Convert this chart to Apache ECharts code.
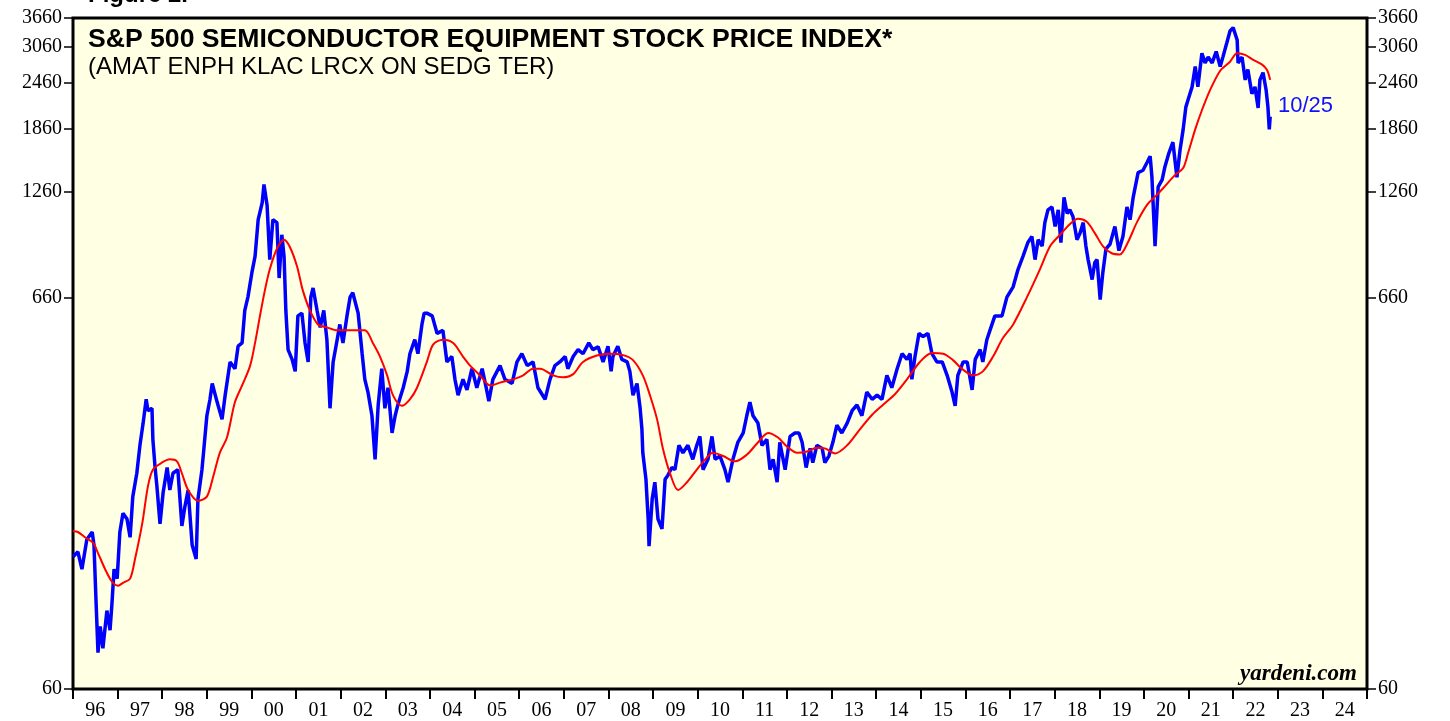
<!DOCTYPE html>
<html>
<head>
<meta charset="utf-8">
<script src="https://cdn.jsdelivr.net/npm/echarts@6/dist/echarts.min.js"></script>
<style>
  html, body { margin: 0; padding: 0; background: #fff; }
  #chart { width: 1450px; height: 721px; }
</style>
</head>
<body>
<div id="chart"></div>
<script>
// year labels under the axis (one per calendar year, centred in the year)
const yearLabels = ['96', '97', '98', '99', '00', '01', '02', '03', '04', '05', '06', '07', '08', '09',
  '10', '11', '12', '13', '14', '15', '16', '17', '18', '19', '20', '21', '22', '23', '24'];

// tick values of the log price axis
const yTicks = [60, 660, 1260, 1860, 2460, 3060, 3660];

// index level, [decimal year, value]
const indexLevel = [
  [1996.00, 135], [1996.11, 139], [1996.20, 125], [1996.31, 150], [1996.43, 157], [1996.47, 145],
  [1996.52, 100], [1996.56, 75], [1996.61, 88], [1996.67, 77], [1996.76, 97], [1996.83, 86],
  [1996.87, 100], [1996.92, 125], [1996.99, 118],
  [1997.05, 157], [1997.12, 176], [1997.21, 170], [1997.28, 152], [1997.34, 195], [1997.43, 225],
  [1997.50, 267], [1997.57, 305], [1997.64, 354], [1997.68, 330], [1997.77, 335], [1997.79, 277],
  [1997.84, 233], [1997.88, 208], [1997.95, 165],
  [1998.02, 200], [1998.11, 233], [1998.17, 203], [1998.24, 225], [1998.35, 230], [1998.44, 163],
  [1998.51, 184], [1998.58, 203], [1998.67, 145], [1998.76, 133], [1998.80, 192], [1998.89, 230],
  [1998.94, 267],
  [1999.00, 320], [1999.07, 354], [1999.12, 390], [1999.23, 348], [1999.34, 313], [1999.41, 363],
  [1999.52, 445], [1999.63, 427], [1999.70, 490], [1999.79, 500], [1999.85, 610], [1999.92, 662],
  [2000.01, 770], [2000.08, 850], [2000.15, 1064], [2000.24, 1180], [2000.28, 1320], [2000.35, 1160],
  [2000.41, 833], [2000.48, 1064], [2000.57, 1045], [2000.62, 744], [2000.68, 970], [2000.73, 850],
  [2000.77, 610], [2000.82, 480], [2000.91, 452], [2000.98, 420],
  [2001.04, 590], [2001.13, 600], [2001.20, 500], [2001.27, 445], [2001.33, 662], [2001.38, 700],
  [2001.47, 610], [2001.54, 550], [2001.62, 610], [2001.69, 510], [2001.76, 335], [2001.83, 445],
  [2001.92, 510], [2001.98, 560],
  [2002.05, 500], [2002.14, 590], [2002.21, 662], [2002.27, 680], [2002.39, 600], [2002.48, 468],
  [2002.54, 400], [2002.61, 370], [2002.70, 320], [2002.77, 245], [2002.84, 342], [2002.92, 427],
  [2002.99, 335],
  [2003.06, 380], [2003.15, 288], [2003.22, 320], [2003.28, 342], [2003.40, 380], [2003.49, 420],
  [2003.55, 468], [2003.66, 510], [2003.73, 468], [2003.82, 560], [2003.87, 600], [2003.93, 600],
  [2004.05, 590], [2004.16, 530], [2004.29, 540], [2004.38, 445], [2004.49, 460], [2004.56, 400],
  [2004.63, 363], [2004.74, 400], [2004.83, 375], [2004.94, 427],
  [2005.05, 380], [2005.17, 427], [2005.26, 380], [2005.32, 350], [2005.41, 400], [2005.57, 435],
  [2005.68, 400], [2005.84, 390], [2005.95, 445],
  [2006.06, 468], [2006.18, 435], [2006.31, 445], [2006.42, 380], [2006.58, 354], [2006.69, 400],
  [2006.80, 435], [2006.91, 445],
  [2007.03, 460], [2007.09, 427], [2007.21, 460], [2007.32, 480], [2007.43, 468], [2007.56, 500],
  [2007.65, 480], [2007.77, 488], [2007.88, 445], [2007.99, 490],
  [2008.06, 420], [2008.10, 460], [2008.21, 490], [2008.30, 452], [2008.42, 445], [2008.48, 420],
  [2008.55, 363], [2008.64, 390], [2008.71, 335], [2008.75, 295], [2008.77, 255], [2008.84, 217],
  [2008.89, 170], [2008.91, 144], [2008.98, 192],
  [2009.04, 213], [2009.11, 170], [2009.20, 160], [2009.27, 217], [2009.33, 222], [2009.42, 233],
  [2009.49, 230], [2009.58, 267], [2009.67, 255], [2009.78, 267], [2009.89, 245], [2009.98, 267],
  [2010.05, 282], [2010.12, 230], [2010.23, 245], [2010.32, 282], [2010.39, 245], [2010.50, 250],
  [2010.61, 230], [2010.68, 213], [2010.79, 245], [2010.90, 272],
  [2011.02, 288], [2011.10, 320], [2011.17, 348], [2011.24, 320], [2011.35, 306], [2011.44, 267],
  [2011.55, 277], [2011.62, 230], [2011.69, 245], [2011.78, 213], [2011.84, 272], [2011.96, 230],
  [2012.07, 282], [2012.18, 288], [2012.27, 288], [2012.34, 272], [2012.43, 233], [2012.52, 262],
  [2012.58, 240], [2012.67, 267], [2012.79, 262], [2012.85, 240], [2012.94, 250],
  [2013.03, 272], [2013.12, 302], [2013.23, 288], [2013.35, 306], [2013.46, 330], [2013.57, 342],
  [2013.68, 320], [2013.79, 370], [2013.91, 354],
  [2014.02, 363], [2014.13, 354], [2014.24, 410], [2014.35, 380], [2014.47, 427], [2014.58, 468],
  [2014.69, 452], [2014.76, 468], [2014.80, 400], [2014.87, 460], [2014.96, 530],
  [2015.05, 520], [2015.16, 530], [2015.25, 468], [2015.36, 445], [2015.48, 445], [2015.59, 410],
  [2015.70, 370], [2015.77, 340], [2015.83, 410], [2015.95, 445],
  [2016.04, 445], [2016.15, 375], [2016.22, 452], [2016.33, 480], [2016.39, 445], [2016.48, 510],
  [2016.55, 540], [2016.66, 590], [2016.82, 590], [2016.93, 662],
  [2017.07, 705], [2017.18, 785], [2017.29, 850], [2017.40, 925], [2017.49, 960], [2017.56, 833],
  [2017.63, 941], [2017.72, 905], [2017.78, 1045], [2017.85, 1130], [2017.94, 1150],
  [2018.01, 1020], [2018.08, 1130], [2018.14, 925], [2018.21, 1220], [2018.28, 1105], [2018.34, 1130],
  [2018.41, 1085], [2018.50, 941], [2018.57, 980], [2018.64, 1045], [2018.70, 905], [2018.75, 833],
  [2018.84, 737], [2018.90, 818], [2018.95, 833],
  [2019.02, 652], [2019.08, 770], [2019.15, 890], [2019.24, 915], [2019.35, 1020], [2019.40, 941],
  [2019.44, 880], [2019.53, 960], [2019.62, 1150], [2019.69, 1064], [2019.76, 1220], [2019.87, 1420],
  [2019.98, 1440],
  [2020.07, 1510], [2020.14, 1570], [2020.18, 1380], [2020.25, 905], [2020.32, 1300], [2020.41, 1359],
  [2020.47, 1470], [2020.56, 1600], [2020.65, 1710], [2020.74, 1380], [2020.81, 1630], [2020.88, 1850],
  [2020.94, 2120], [2020.99, 2217],
  [2021.08, 2400], [2021.15, 2720], [2021.21, 2400], [2021.30, 2950], [2021.37, 2780], [2021.44, 2880],
  [2021.53, 2780], [2021.62, 2980], [2021.71, 2720], [2021.77, 2880], [2021.86, 3150], [2021.93, 3380],
  [2022.00, 3450], [2022.09, 3200], [2022.11, 2780], [2022.20, 2880], [2022.27, 2505], [2022.33, 2670],
  [2022.42, 2300], [2022.49, 2400], [2022.56, 2110], [2022.60, 2505], [2022.67, 2620], [2022.74, 2350],
  [2022.78, 2120], [2022.81, 1850], [2022.83, 2000]
];

// moving average (red), [decimal year, value]
const movingAvg = [
  [1996.00, 158], [1996.11, 157], [1996.27, 152], [1996.45, 147], [1996.56, 138], [1996.72, 125],
  [1996.87, 116], [1997.01, 113], [1997.12, 115], [1997.28, 118], [1997.39, 133], [1997.55, 165],
  [1997.68, 208], [1997.79, 230], [1997.99, 240], [1998.17, 245], [1998.33, 242], [1998.44, 225],
  [1998.58, 203], [1998.80, 190], [1999.00, 195], [1999.14, 220], [1999.29, 255], [1999.45, 280],
  [1999.63, 348], [1999.81, 390], [1999.97, 435], [2000.08, 500], [2000.19, 590], [2000.30, 690],
  [2000.41, 785], [2000.57, 890], [2000.73, 941], [2000.86, 900], [2001.02, 800], [2001.15, 690],
  [2001.31, 610], [2001.49, 560], [2001.69, 550], [2001.92, 540], [2002.21, 540], [2002.54, 540],
  [2002.72, 500], [2002.88, 460], [2003.04, 410], [2003.17, 363], [2003.37, 340], [2003.55, 354],
  [2003.71, 380], [2003.93, 445], [2004.07, 495], [2004.29, 510], [2004.52, 500], [2004.74, 460],
  [2004.90, 435], [2005.12, 410], [2005.35, 385], [2005.57, 392], [2005.86, 400], [2006.09, 410],
  [2006.31, 427], [2006.47, 427], [2006.76, 410], [2006.98, 405], [2007.21, 413], [2007.43, 445],
  [2007.74, 463], [2008.03, 468], [2008.33, 464], [2008.55, 450], [2008.77, 410], [2008.93, 363],
  [2009.09, 313], [2009.22, 262], [2009.38, 225], [2009.56, 203], [2009.76, 213], [2009.98, 230],
  [2010.21, 248], [2010.34, 255], [2010.57, 250], [2010.84, 242], [2011.10, 252], [2011.33, 270],
  [2011.58, 288], [2011.80, 280], [2012.00, 265], [2012.23, 255], [2012.45, 257], [2012.67, 263],
  [2012.85, 262], [2013.08, 254], [2013.35, 267], [2013.64, 295], [2013.91, 322], [2014.15, 342],
  [2014.42, 365], [2014.69, 400], [2014.98, 445], [2015.25, 470], [2015.50, 468], [2015.72, 450],
  [2015.92, 427], [2016.17, 410], [2016.39, 420], [2016.62, 460], [2016.84, 515], [2017.07, 560],
  [2017.38, 662], [2017.67, 785], [2017.90, 905], [2018.12, 970], [2018.34, 1035], [2018.52, 1070],
  [2018.72, 1050], [2018.90, 980], [2019.08, 905], [2019.28, 866], [2019.46, 860], [2019.64, 925],
  [2019.84, 1045], [2020.07, 1165], [2020.25, 1225], [2020.43, 1290], [2020.70, 1400], [2020.88, 1460],
  [2020.99, 1600], [2021.15, 1850], [2021.30, 2080], [2021.48, 2350], [2021.71, 2650], [2021.93, 2800],
  [2022.09, 2950], [2022.27, 2920], [2022.45, 2831], [2022.65, 2750], [2022.76, 2660], [2022.83, 2505]
];

const chart = echarts.init(document.getElementById('chart'));

const tickLabelStyle = {
  color: '#000',
  fontFamily: 'Liberation Serif',
  fontSize: 20
};

// y axis config, same on both sides
function priceAxis(side) {
  return {
    type: 'log',
    logBase: 10,
    min: 60,
    max: 3660,
    position: side,
    axisLine: { show: false },
    splitLine: { show: false },
    axisTick: {
      show: true,
      length: 9,
      customValues: yTicks,
      lineStyle: { color: '#000', width: 1.5 }
    },
    axisLabel: Object.assign({
      customValues: yTicks,
      margin: 11,
      formatter: v => String(Math.round(v))
    }, tickLabelStyle)
  };
}

const option = {
  animation: false,
  backgroundColor: '#ffffff',
  grid: {
    left: 73,
    right: 83,
    top: 18,
    bottom: 31,
    show: true,
    backgroundColor: '#FFFFE3',
    borderColor: '#000',
    borderWidth: 3
  },
  xAxis: [
    {
      type: 'category',
      data: yearLabels,
      boundaryGap: true,
      position: 'bottom',
      axisLine: { show: false },
      axisTick: { show: true, length: 10, lineStyle: { color: '#000', width: 2 } },
      axisLabel: Object.assign({ margin: 12, interval: 0 }, tickLabelStyle)
    },
    {
      type: 'value',
      min: 1996,
      max: 2025,
      show: false
    }
  ],
  yAxis: [priceAxis('left'), priceAxis('right')],
  graphic: [
    {
      type: 'text', left: 88, top: -17,
      style: { text: 'Figure 2.', font: 'bold 24px "Liberation Sans"', fill: '#000' }
    },
    {
      type: 'text', left: 88, top: 26,
      style: { text: 'S&P 500 SEMICONDUCTOR EQUIPMENT STOCK PRICE INDEX*', font: 'bold 26.6px "Liberation Sans"', fill: '#000' }
    },
    {
      type: 'text', left: 88, top: 55,
      style: { text: '(AMAT ENPH KLAC LRCX ON SEDG TER)', font: '24px "Liberation Sans"', fill: '#000' }
    },
    {
      type: 'text', left: 1278, top: 95,
      style: { text: '10/25', font: '22px "Liberation Sans"', fill: '#1010ff' }
    },
    {
      type: 'text', left: 1240, top: 663,
      style: { text: 'yardeni.com', font: 'italic bold 23px "Liberation Serif"', fill: '#000' }
    }
  ],
  series: [
    {
      name: 'Index',
      type: 'line',
      xAxisIndex: 1,
      yAxisIndex: 0,
      data: indexLevel,
      showSymbol: false,
      lineStyle: { color: '#0000ff', width: 3.5 }
    },
    {
      name: 'Moving average',
      type: 'line',
      xAxisIndex: 1,
      yAxisIndex: 0,
      data: movingAvg,
      smooth: 0.3,
      showSymbol: false,
      lineStyle: { color: '#ff0000', width: 2 }
    }
  ]
};

chart.setOption(option);
</script>
</body>
</html>
